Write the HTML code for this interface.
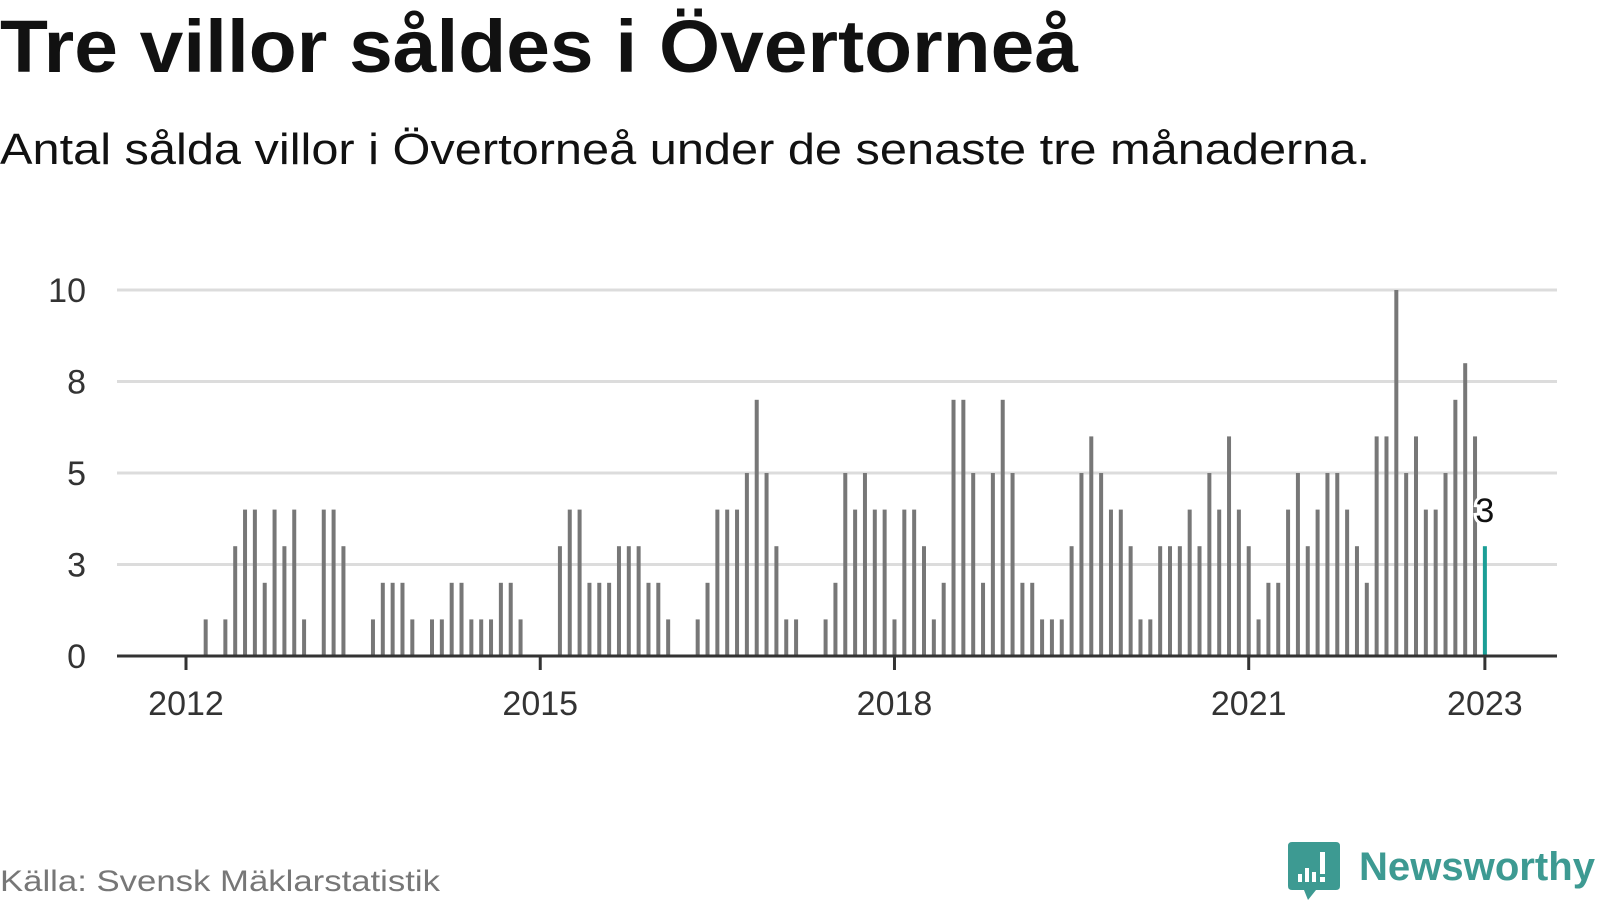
<!DOCTYPE html>
<html><head><meta charset="utf-8"><style>
html,body{margin:0;padding:0;background:#fff;}
svg{display:block;font-family:"Liberation Sans",sans-serif;}
</style></head><body>
<svg id="chart" width="1600" height="900" viewBox="0 0 1600 900">
<text x="0" y="72" font-size="74" font-weight="bold" fill="#111" textLength="1078" lengthAdjust="spacingAndGlyphs">Tre villor såldes i Övertorneå</text>
<text x="0" y="164" font-size="44" fill="#111" textLength="1370" lengthAdjust="spacingAndGlyphs">Antal sålda villor i Övertorneå under de senaste tre månaderna.</text>
<g id="grid"></g>
<g id="yticks"></g>
<g id="bars"></g>
<g id="xaxis"></g>
<text x="0" y="891" font-size="30" fill="#777" textLength="440" lengthAdjust="spacingAndGlyphs">Källa: Svensk Mäklarstatistik</text>
<g>
<path d="M1292 842 h44 q4 0 4 4 v40 q0 4 -4 4 h-20 l-8 10 l-4 -10 h-12 q-4 0 -4 -4 v-40 q0 -4 4 -4z" fill="#3d9a92"/>
<rect x="1298" y="874" width="4" height="8" fill="#fff"/><rect x="1305" y="868" width="4" height="14" fill="#fff"/><rect x="1312" y="872" width="4" height="10" fill="#fff"/><rect x="1320" y="852" width="5" height="22" fill="#fff"/><rect x="1320" y="877" width="5" height="5" fill="#fff"/>
<text x="1359" y="880" font-size="40" font-weight="bold" fill="#3d9a92" textLength="236" lengthAdjust="spacingAndGlyphs">Newsworthy</text>
</g>
</svg>
<script>
// monthly sales, starting Jan 2012 (index 0) through Jan 2023 (index 132)
const months = 133;
const values = [
0,0,1,0,1,3,4,4,2,4,3,4,
1,0,4,4,3,0,0,1,2,2,2,1,
0,1,1,2,2,1,1,1,2,2,1,0,
0,0,3,4,4,2,2,2,3,3,3,2,
2,1,0,0,1,2,4,4,4,5,7,5,
3,1,1,0,0,1,2,5,4,5,4,4,
1,4,4,3,1,2,7,7,5,2,5,7,
5,2,2,1,1,1,3,5,6,5,4,4,
3,1,1,3,3,3,4,3,5,4,6,4,
3,1,2,2,4,5,3,4,5,5,4,3,
2,6,6,10,5,6,4,4,5,7,8,6,
3];
const yTicks = [0,2.5,5,7.5,10];
const yTickLabels = ["0","3","5","8","10"];
const xTickYears = [2012,2015,2018,2021,2023];
const ns="http://www.w3.org/2000/svg";
const X0=186, MW=9.84, Y0=656, UNIT=36.6, XL=117, XR=1557;
const x = m => X0 + m*MW;
const y = v => Y0 - v*UNIT;
function mk(tag, attrs, parent){const e=document.createElementNS(ns,tag);for(const k in attrs)e.setAttribute(k,attrs[k]);parent.appendChild(e);return e;}
const grid=document.getElementById('grid'), yt=document.getElementById('yticks'), bars=document.getElementById('bars'), xa=document.getElementById('xaxis');
yTicks.forEach((t,i)=>{
  if(t>0){const l=mk('line',{x1:XL,x2:XR,y1:y(t),y2:y(t),stroke:'#dcdcdc','stroke-width':3},grid);
  
  }
  const tx=mk('text',{x:86,y:y(t)+12,'font-size':34,fill:'#333','text-anchor':'end'},yt);
  tx.textContent=yTickLabels[i];
  
  
});
const last=values.length-1;
values.forEach((v,m)=>{
  if(v<=0) return;
  const r=mk('rect',{x:x(m)-2,y:y(v),width:4,height:v*UNIT,fill:m===last?'#1a9e96':'#777'},bars);
  
  
});
const lv=values[last];
const lab=mk('text',{x:x(last),y:y(lv)-24,'font-size':34,fill:'#111','text-anchor':'middle',stroke:'#fff','stroke-width':6,'paint-order':'stroke'},bars);
lab.textContent=String(lv);


const ax=mk('line',{x1:XL,x2:XR,y1:Y0,y2:Y0,stroke:'#333','stroke-width':3},xa);


xTickYears.forEach(yr=>{
  const m=(yr-2012)*12;
  const tk=mk('line',{x1:x(m),x2:x(m),y1:Y0,y2:Y0+14,stroke:'#333','stroke-width':3},xa);
  
  
  const t=mk('text',{x:x(m),y:715,'font-size':34,fill:'#333','text-anchor':'middle'},xa);
  t.textContent=String(yr);
  
  
});
</script>
</body></html>
